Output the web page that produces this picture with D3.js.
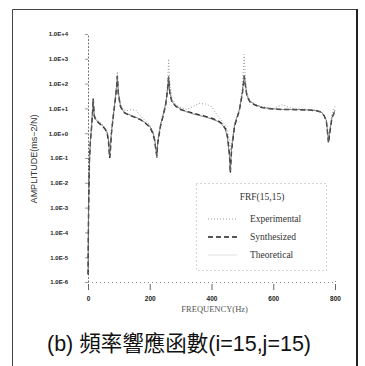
<!DOCTYPE html>
<html>
<head>
<meta charset="utf-8">
<script src="https://cdn.jsdelivr.net/npm/d3@7"></script>
<style>
  html, body { margin: 0; padding: 0; background: #fff; }
  svg { display: block; }
</style>
</head>
<body>
<svg id="chart" width="365" height="366"></svg>
<script>
// Frequency response function FRF(15,15): amplitude vs frequency
const frequency = [0, 2, 5, 8, 12, 15, 17, 20, 25, 35, 45, 55, 62, 66, 70, 72, 76, 82, 88, 93, 95, 98,
  105, 115, 125, 140, 155, 170, 185, 200, 210, 216, 220, 223, 226, 235, 245, 252, 258, 261, 265, 272,
  285, 300, 320, 340, 360, 380, 400, 420, 435, 445, 452, 458, 461, 465, 475, 490, 500, 506, 510, 515,
  525, 540, 560, 580, 600, 630, 660, 690, 720, 740, 755, 765, 772, 776, 779, 783, 790, 800];

const experimental = [1e-5, 0.002, 0.08, 0.6, 3, 10, 20, 6, 4, 3, 2.4, 1.8, 1.0, 0.7, 0.3, 0.4, 1.5, 6, 25, 120, 300, 60,
  15, 9, 8, 9, 8.5, 5, 3.2, 2.2, 1.2, 0.6, 0.25, 0.13, 0.5, 2.5, 8, 20, 100, 1000, 120, 25,
  14, 11, 9, 12, 16, 15, 12, 5, 3, 2, 1.2, 0.5, 0.2, 0.4, 2.5, 10, 60, 1500, 150, 40,
  22, 15, 12, 11, 10, 14, 10, 9.5, 9, 8.5, 7.5, 5.5, 3.5, 1.5, 0.6, 1.5, 6, 12];

const synthesized = [2e-6, 0.001, 0.1, 0.5, 2, 8, 25, 5, 3.5, 2.6, 2.0, 1.5, 1.0, 0.5, 0.1, 0.15, 1, 5, 20, 80, 200, 40,
  12, 7, 6, 5, 4.2, 3.5, 2.6, 1.8, 1.0, 0.5, 0.2, 0.12, 0.4, 2, 6, 15, 60, 180, 40, 18,
  12, 9, 7.5, 6.5, 5.5, 4.8, 4, 3.2, 2.4, 1.5, 0.7, 0.15, 0.025, 0.2, 2, 8, 40, 200, 80, 30,
  18, 14, 11, 10, 9.5, 9, 9, 8.8, 8.5, 8, 7, 5, 3, 1, 0.4, 1, 4, 8];

const theoretical = [3e-6, 0.001, 0.09, 0.5, 2.2, 9, 24, 5.5, 3.6, 2.7, 2.1, 1.6, 1.1, 0.6, 0.12, 0.2, 1.1, 5, 21, 90, 210, 45,
  13, 7.5, 6.2, 5.2, 4.4, 3.6, 2.7, 1.9, 1.1, 0.55, 0.22, 0.1, 0.45, 2.1, 6.5, 16, 65, 200, 45, 19,
  12.5, 9.5, 7.2, 6, 5.2, 4.5, 3.8, 3, 2.2, 1.4, 0.6, 0.12, 0.03, 0.25, 2.2, 8.5, 45, 220, 85, 32,
  19, 14.5, 11.5, 10.2, 9.6, 9.1, 9, 8.9, 8.6, 8.1, 7.2, 5.2, 3.2, 1.1, 0.45, 1.1, 4.2, 8.5];

const xTicks = [0, 200, 400, 600, 800];
const yTicks = [1e4, 1e3, 1e2, 1e1, 1e0, 1e-1, 1e-2, 1e-3, 1e-4, 1e-5, 1e-6];
const yTickLabels = ["1.0E+4", "1.0E+3", "1.0E+2", "1.0E+1", "1.0E+0", "1.0E-1",
  "1.0E-2", "1.0E-3", "1.0E-4", "1.0E-5", "1.0E-6"];

const series = [
  { name: "Experimental", values: experimental, stroke: "#9a9a9a", width: 1, dash: "1,2" },
  { name: "Synthesized", values: synthesized, stroke: "#222", width: 1.4, dash: "5,3" },
  { name: "Theoretical", values: theoretical, stroke: "#666", width: 0.8, dash: null }
];

const svg = d3.select("#chart");

// outer frame of the figure
svg.append("path")
  .attr("d", "M12.5,366 L12.5,9.5 L357,9.5 L357,366")
  .attr("fill", "none").attr("stroke", "#444").attr("stroke-width", 1);
svg.append("line").attr("x1", 357).attr("x2", 357).attr("y1", 9).attr("y2", 366)
  .attr("stroke", "#222").attr("stroke-width", 2);

const x = d3.scaleLinear().domain([0, 800]).range([88, 335]);
const y = d3.scaleLog().domain([1e-6, 1e4]).range([282, 34]);

// y axis
const yAxis = svg.append("g").attr("transform", "translate(88,0)")
  .call(d3.axisLeft(y).tickValues(yTicks).tickSize(3)
    .tickFormat((d, i) => yTickLabels[i]));
yAxis.select(".domain").attr("stroke", "#777").attr("stroke-dasharray", "2,1.5");
yAxis.selectAll(".tick line").attr("stroke", "#999");
yAxis.selectAll(".tick text")
  .attr("x", -20)
  .style("font-family", "'Liberation Sans', Arial, sans-serif")
  .style("font-size", "6px").style("font-weight", "bold").attr("fill", "#222");

// x axis
const xAxis = svg.append("g").attr("transform", "translate(0,282)")
  .call(d3.axisBottom(x).tickValues(xTicks).tickSize(-4)
    .tickFormat(d3.format("d")));
xAxis.select(".domain").attr("stroke", "#888").attr("stroke-dasharray", "1,3");
xAxis.selectAll(".tick line").attr("stroke", "#666").attr("y1", 8).attr("y2", 2);
xAxis.selectAll(".tick text")
  .attr("y", 14)
  .style("font-family", "'Liberation Sans', Arial, sans-serif")
  .style("font-size", "6.5px").style("font-weight", "bold").attr("fill", "#222");

// axis titles
svg.append("text")
  .attr("x", x(410)).attr("y", 312)
  .attr("text-anchor", "middle")
  .style("font-family", "'Liberation Serif', 'DejaVu Serif', serif")
  .style("font-size", "8.5px").attr("fill", "#555")
  .text("FREQUENCY(Hz)");

svg.append("text")
  .attr("transform", "translate(37,159) rotate(-90)")
  .attr("text-anchor", "middle")
  .style("font-family", "'Liberation Sans', Arial, sans-serif")
  .style("font-size", "9px").attr("fill", "#333")
  .text("AMPLITUDE(ms−2/N)");

// curves
const line = d3.line()
  .x((d, i) => x(frequency[i]))
  .y(d => y(d));

svg.append("g").selectAll("path")
  .data(series).join("path")
  .attr("d", d => line(d.values))
  .attr("fill", "none")
  .attr("stroke", d => d.stroke)
  .attr("stroke-width", d => d.width)
  .attr("stroke-dasharray", d => d.dash);

// legend
const legend = svg.append("g");
legend.append("rect")
  .attr("x", 196.5).attr("y", 183.5).attr("width", 130).attr("height", 87)
  .attr("fill", "#fff").attr("stroke", "#999").attr("stroke-width", 0.8)
  .attr("stroke-dasharray", "1,3");
legend.append("text")
  .attr("x", 262).attr("y", 200).attr("text-anchor", "middle")
  .style("font-family", "'Liberation Serif', 'DejaVu Serif', serif")
  .style("font-size", "9.5px").attr("fill", "#333")
  .text("FRF(15,15)");
const rowY = [219, 237, 255];
series.forEach((s, i) => {
  legend.append("line")
    .attr("x1", 208).attr("x2", 237).attr("y1", rowY[i]).attr("y2", rowY[i])
    .attr("stroke", s.stroke).attr("stroke-width", s.width)
    .attr("stroke-dasharray", s.dash)
    .attr("opacity", i === 2 ? 0.25 : 1);
  legend.append("text")
    .attr("x", 250).attr("y", rowY[i] + 3)
    .style("font-family", "'Liberation Serif', 'DejaVu Serif', serif")
    .style("font-size", "9.5px").attr("fill", "#333")
    .text(s.name);
});

// caption
svg.append("text")
  .attr("x", 179).attr("y", 351).attr("text-anchor", "middle")
  .style("font-family", "'Liberation Sans', Arial, 'Noto Sans CJK TC', sans-serif")
  .style("font-size", "21.5px").attr("fill", "#111")
  .text("(b) 頻率響應函數(i=15,j=15)");
</script>
</body>
</html>
